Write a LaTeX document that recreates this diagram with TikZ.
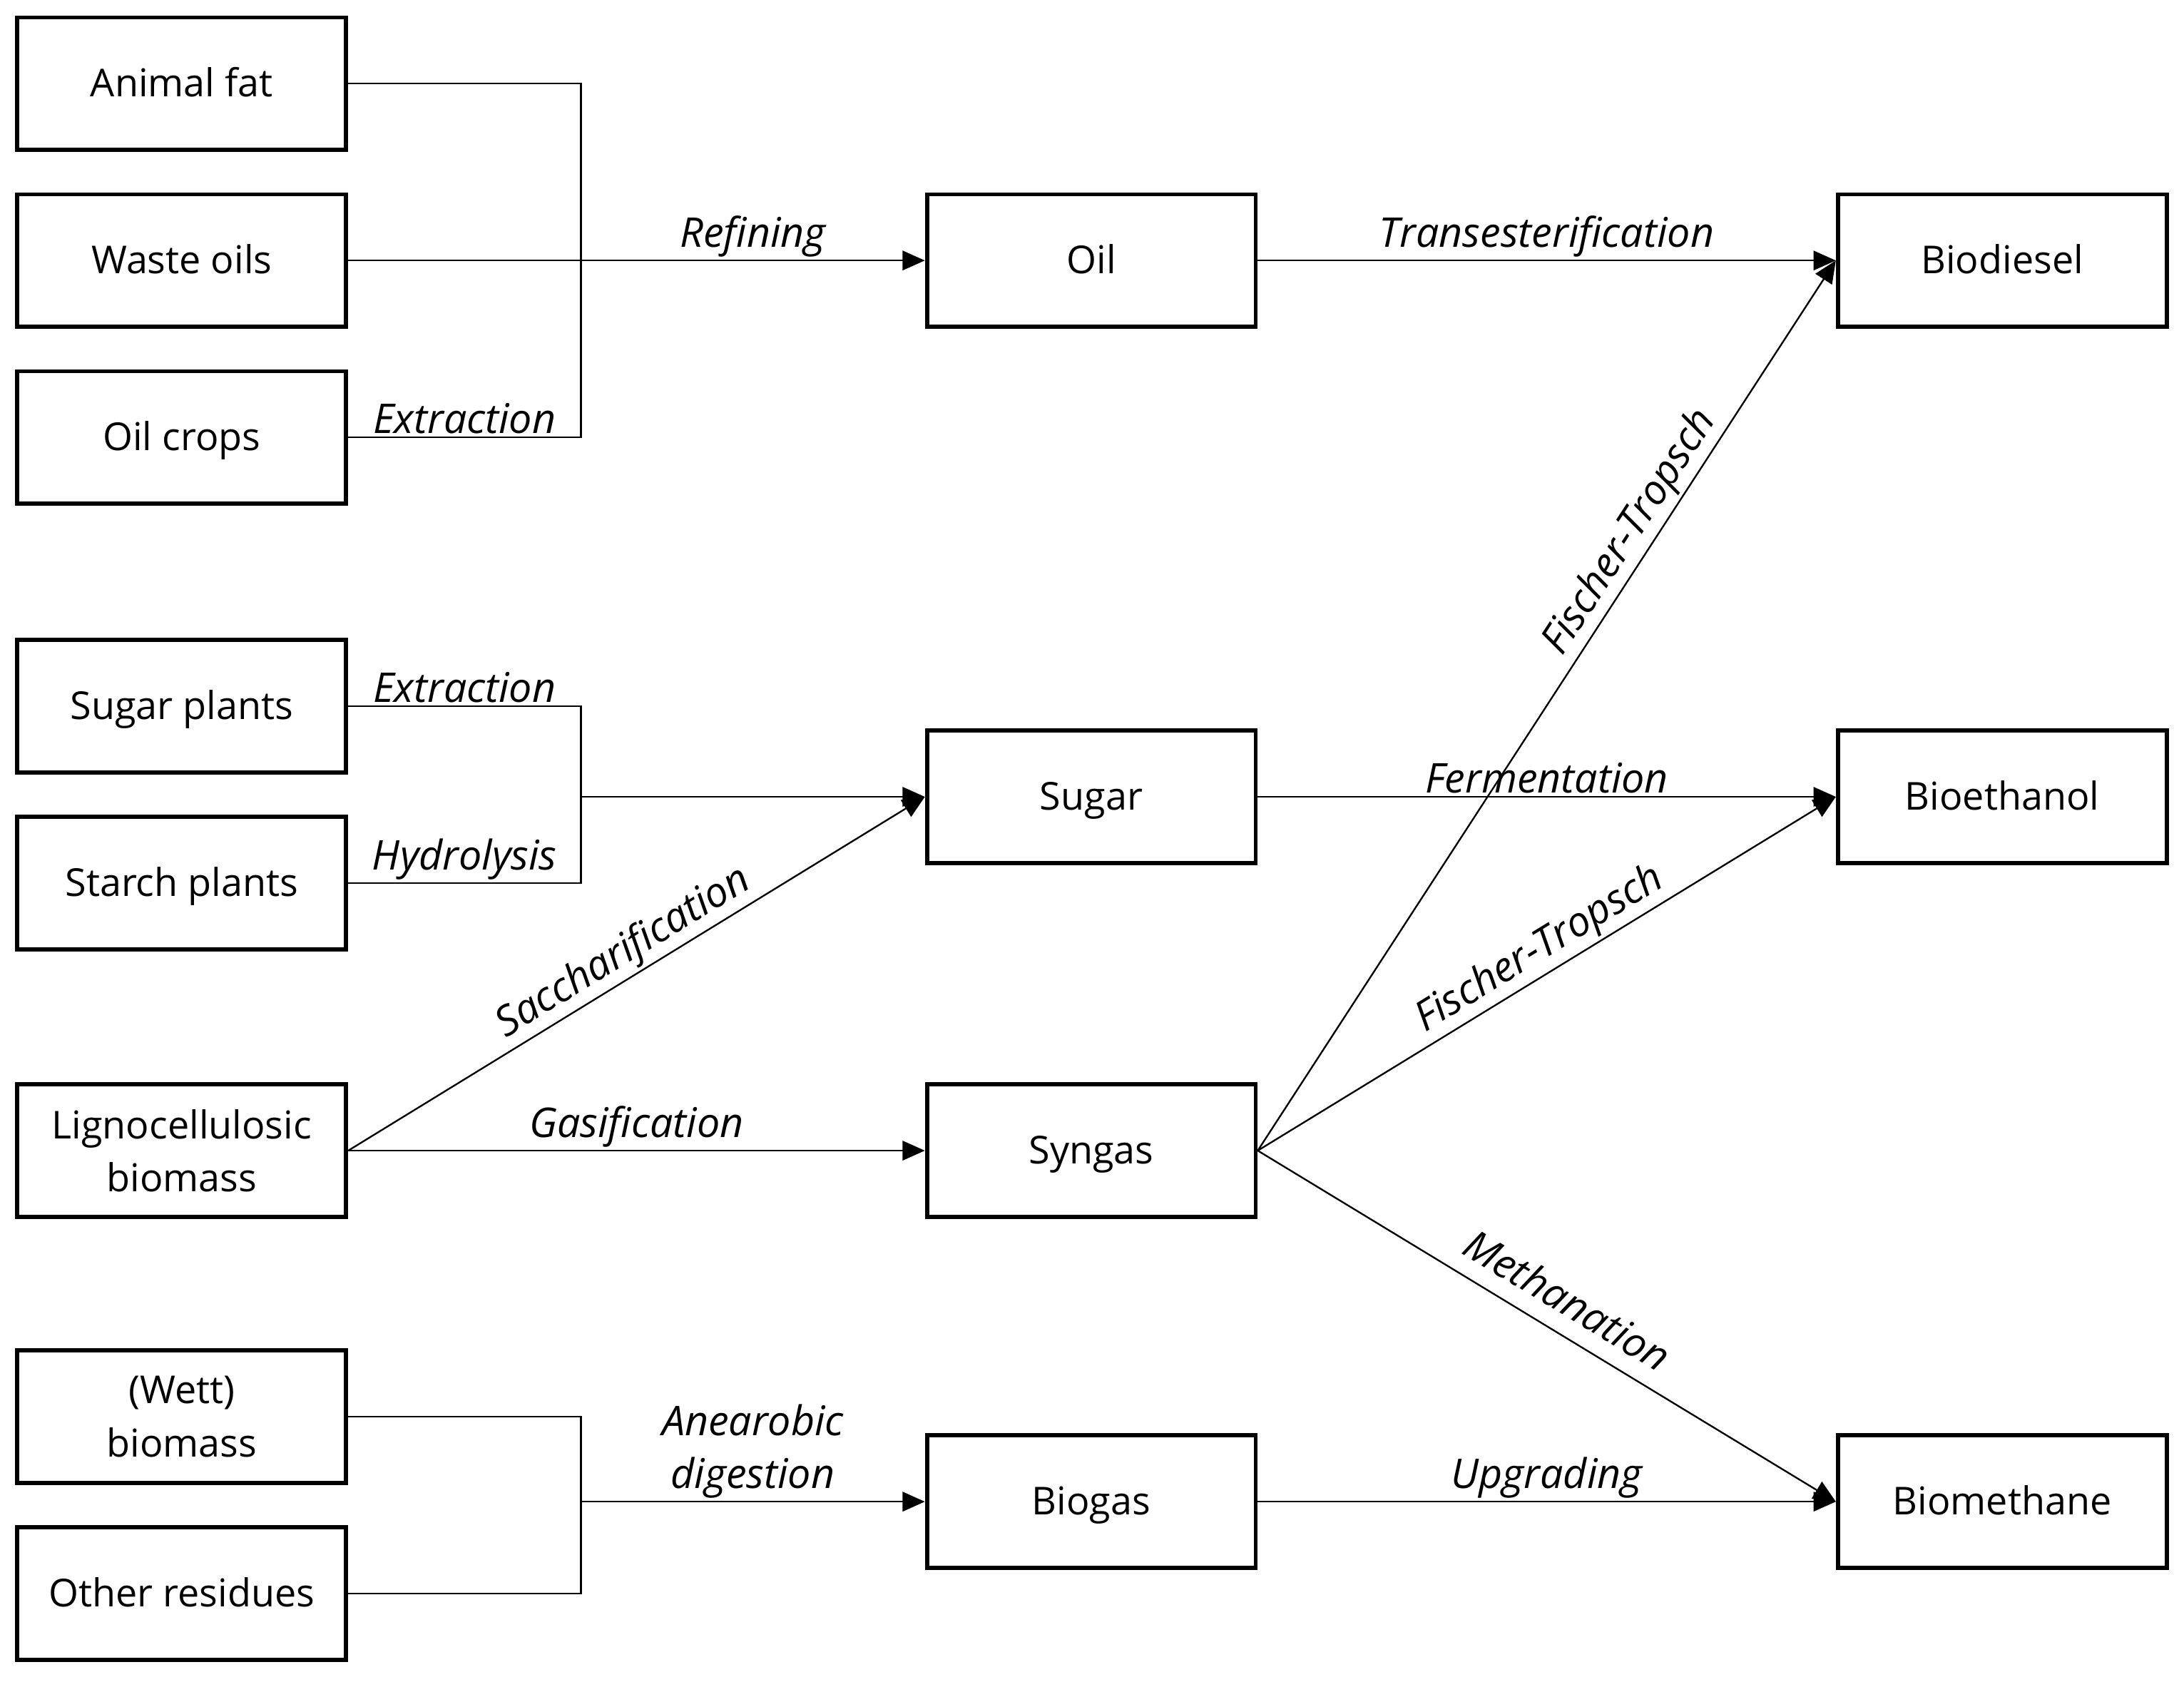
\documentclass[tikz,border=0pt]{standalone}
\usepackage{fontspec}
\setmainfont{Open Sans}
\usetikzlibrary{positioning,arrows.meta}
\tikzstyle{box2}=[rectangle, draw=black, line width=1.5pt, minimum width=118pt, minimum height=47.5pt,
        text centered, align=center, font=\fontsize{13.8}{19}\selectfont]
\tikzstyle{box}=[box2, text height=0.95em, text depth=0pt]
\tikzstyle{link}=[line width=0.6pt]
\tikzstyle{arr}=[line width=0.6pt, -{Triangle[length=8pt,width=7pt]}]
\tikzstyle{proc}=[font=\fontsize{14.7}{19}\selectfont\itshape, inner sep=1pt, text=black]

\begin{document}
\begin{tikzpicture}[x=0.5pt,y=-0.5pt]
\useasboundingbox (0,0) rectangle (1568,1207);
% feedstocks
\node[box] (fat) at (130.5,60) {Animal fat};
\node[box] (waste) at (130.5,187) {Waste oils};
\node[box] (crops) at (130.5,314) {Oil crops};
\node[box] (sugarpl) at (130.5,507) {Sugar plants};
\node[box] (starch) at (130.5,634) {Starch plants};
\node[box2] (ligno) at (130.5,826) {Lignocellulosic\\biomass};
\node[box2] (wett) at (130.5,1017) {(Wett)\\biomass};
\node[box] (resid) at (130.5,1144) {Other residues};
% intermediates
\node[box] (oil) at (783.5,187) {Oil};
\node[box] (sugar) at (783.5,572) {Sugar};
\node[box] (syngas) at (783.5,826) {Syngas};
\node[box] (biogas) at (783.5,1078) {Biogas};
% products
\node[box] (biodiesel) at (1437.5,187) {Biodiesel};
\node[box] (bioethanol) at (1437.5,572) {Bioethanol};
\node[box] (biomethane) at (1437.5,1078) {Biomethane};
% junctions
\coordinate (j1) at (417,187);
\coordinate (j2) at (417,572);
\coordinate (j3) at (417,1078);

\draw[link] (fat.east) -- (fat.east -| j1) -- (crops.east -| j1) -- node[proc,above] {Extraction} (crops.east);
\draw[link] (waste.east) -- (j1);
\draw[arr] (j1) -- node[proc,above] {Refining} (oil.west);
\draw[link] (sugarpl.east) -- node[proc,above] {Extraction} (sugarpl.east -| j2) -- (starch.east -| j2) -- node[proc,above] {Hydrolysis} (starch.east);
\draw[arr] (j2) -- (sugar.west);
\draw[arr] (ligno.east) -- node[proc,above,sloped,pos=0.5] {Saccharification} (sugar.west);
\draw[arr] (ligno.east) -- node[proc,above] {Gasification} (syngas.west);
\draw[link] (wett.east) -- (wett.east -| j3) -- (resid.east -| j3) -- (resid.east);
\draw[arr] (j3) -- node[proc,above,align=center] {Anearobic\\digestion} (biogas.west);

\draw[arr] (oil.east) -- node[proc,above] {Transesterification} (biodiesel.west);
\draw[arr] (sugar.east) -- node[proc,above] {Fermentation} (bioethanol.west);
\draw[arr] (biogas.east) -- node[proc,above] {Upgrading} (biomethane.west);
\draw[arr] (syngas.east) -- node[proc,above,sloped,pos=0.68] {Fischer-Tropsch} (biodiesel.west);
\draw[arr] (syngas.east) -- node[proc,above,sloped,pos=0.51] {Fischer-Tropsch} (bioethanol.west);
\draw[arr] (syngas.east) -- node[proc,above=6pt,sloped,pos=0.506,inner sep=0pt] {Methanation} (biomethane.west);
\end{tikzpicture}
\end{document}
